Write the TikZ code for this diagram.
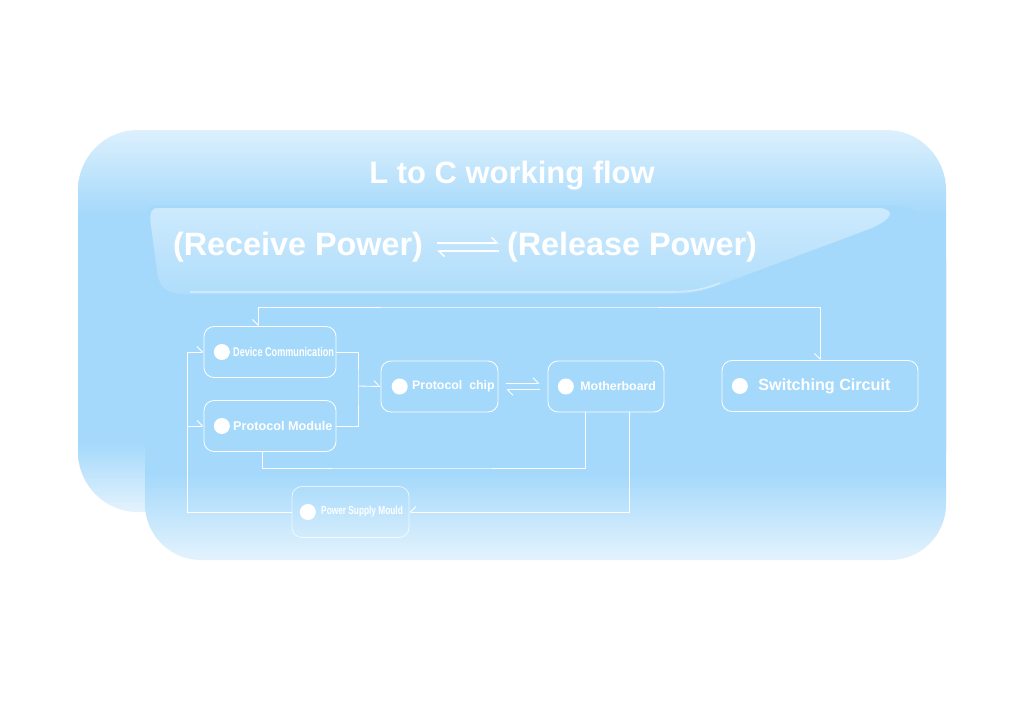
\documentclass[tikz,border=0pt]{standalone}
\usepackage{fontspec}
\setmainfont{Liberation Sans}
\newfontfamily\narrowfont[FakeStretch=0.72]{Liberation Sans}
\usetikzlibrary{positioning,arrows.meta}

\definecolor{paneltop}{HTML}{DCF0FD}
\definecolor{panelsky}{HTML}{A5D9FB}
\definecolor{panelpale}{HTML}{E4F3FD}
\definecolor{ribbontop}{HTML}{CDEAFD}
\definecolor{ribbonbot}{HTML}{AFDDFB}

\pgfdeclareverticalshading{backpanel}{100bp}{color(0bp)=(panelpale); color(25bp)=(panelpale); color(34bp)=(panelsky); color(64bp)=(panelsky); color(75bp)=(paneltop); color(100bp)=(paneltop)}
\pgfdeclareverticalshading{frontpanel}{100bp}{color(0bp)=(panelpale); color(25bp)=(panelpale); color(37bp)=(panelsky); color(75bp)=(panelsky); color(100bp)=(panelsky)}

\begin{document}
\begin{tikzpicture}[x=0.025cm,y=-0.025cm,
    box/.style={draw=white,line width=0.6pt,rounded corners=0.25cm,minimum height=1.275cm},
    dot/.style={circle,fill=white,inner sep=0pt,minimum size=0.4cm},
    lbl/.style={text=white,inner sep=0pt},
    flow/.style={draw=white,line width=0.6pt},
    harp/.style={-{Straight Barb[left,length=1.4mm,width=2.8mm]}},
    harpright/.style={-{Straight Barb[right,length=1.4mm,width=2.8mm]}},
    harpdown/.style={{Straight Barb[right,length=1.4mm,width=2.8mm]}-{Straight Barb[right,length=1.4mm,width=2.8mm]}}]

    % Panels
    \fill[white] (0,0) rectangle (1024,724);
    \useasboundingbox (0,0) rectangle (1024,724);
    \shade[shading=backpanel,rounded corners=1.5cm] (78,130) rectangle (946,512);
    \shade[shading=frontpanel] (145,300) [rounded corners=0.3cm] -- (145,205)
        [rounded corners=1.4cm] -- (946,205) -- (946,560) -- (145,560) -- cycle;

    % Ribbon
    \shade[top color=ribbontop,bottom color=ribbonbot] (158,208) -- (880,208)
        .. controls (896,210) and (892,219) .. (872,228) -- (722,284)
        .. controls (702,292) and (690,294) .. (670,294) -- (186,294)
        .. controls (166,294) and (159,288) .. (157,270) -- (151,226)
        .. controls (149,213) and (151,208) .. (158,208) -- cycle;
    \draw[white,opacity=0.4,line width=1.2pt] (190,292) -- (668,292)
        .. controls (690,292) and (702,290) .. (720,283);

    % Titles
    \node[lbl,font=\bfseries\fontsize{22}{26}\selectfont] (title) at (512,176) {L to C working flow};
    \node[lbl,font=\bfseries\fontsize{23}{27}\selectfont] (recv) at (298,247) {(Receive Power)};
    \node[lbl,font=\bfseries\fontsize{23}{27}\selectfont] (rel) at (632,247) {(Release Power)};
    \draw[flow,harp,line width=1pt] ([shift={(0.35cm,0.1cm)}]recv.east) -- ([shift={(-0.2cm,0.1cm)}]rel.west);
    \draw[flow,harp,line width=1pt] ([shift={(-0.2cm,-0.1cm)}]rel.west) -- ([shift={(0.35cm,-0.1cm)}]recv.east);

    % Boxes
    \node[box,minimum width=3.3cm] (devcomm) at (270,352) {};
    \node[dot,right=0.25cm of devcomm.west] (devcommdot) {};
    \node[lbl,right=0.07cm of devcommdot,font=\narrowfont\bfseries\fontsize{9}{10}\selectfont] {Device Communication};

    \node[box,minimum width=3.3cm] (protmod) at (270,426) {};
    \node[dot,right=0.25cm of protmod.west] (protmoddot) {};
    \node[lbl,right=0.07cm of protmoddot,font=\bfseries\fontsize{9}{10}\selectfont] {Protocol Module};

    \node[box,minimum width=2.925cm] (chip) at (439.5,386.5) {};
    \node[dot,right=0.27cm of chip.west] (chipdot) {};
    \node[lbl,right=0.1cm of chipdot,font=\bfseries\fontsize{8.8}{10}\selectfont] {Protocol\ \ chip};

    \node[box,minimum width=2.9cm] (mb) at (606,386.5) {};
    \node[dot,right=0.25cm of mb.west] (mbdot) {};
    \node[lbl,right=0.15cm of mbdot,font=\bfseries\fontsize{8.8}{10}\selectfont] {Motherboard};

    \node[box,minimum width=4.9cm] (switch) at (820,386) {};
    \node[dot,right=0.25cm of switch.west] (switchdot) {};
    \node[lbl,right=0.25cm of switchdot,font=\bfseries\fontsize{11.5}{13}\selectfont] {Switching Circuit};

    \node[box,minimum width=2.925cm,draw opacity=0.7] (power) at (350.5,512) {};
    \node[dot,right=0.2cm of power.west] (powerdot) {};
    \node[lbl,right=0.12cm of powerdot,font=\narrowfont\bfseries\fontsize{8.2}{10}\selectfont] {Power Supply Mould};

    % Connectors
    \coordinate (topbus) at (500,307);
    \coordinate (merge) at (358,386);
    \coordinate (lowbus) at (400,468);
    \draw[flow,harpdown] ([xshift=-0.3cm]devcomm.north) |- (topbus) -| (switch.north);
    \draw[flow] (devcomm.east) -| (merge) |- (protmod.east);
    \draw[flow,harp] (merge) -- (chip.west);
    \draw[flow,harp] ([shift={(0.18cm,0.08cm)}]chip.east) -- ([shift={(-0.2cm,0.08cm)}]mb.west);
    \draw[flow,harp] ([shift={(-0.18cm,-0.08cm)}]mb.west) -- ([shift={(0.2cm,-0.08cm)}]chip.east);
    \draw[flow] ([xshift=-0.2cm]protmod.south) |- (lowbus) -| ([xshift=-0.525cm]mb.south);
    \draw[flow,harpright] ([xshift=0.575cm]mb.south) |- (power.east);
    \draw[flow,harp] (power.west) -| ([xshift=-0.4cm]devcomm.west) -- (devcomm.west);
    \draw[flow,harp] ([xshift=-0.4cm]protmod.west) -- (protmod.west);
\end{tikzpicture}
\end{document}
